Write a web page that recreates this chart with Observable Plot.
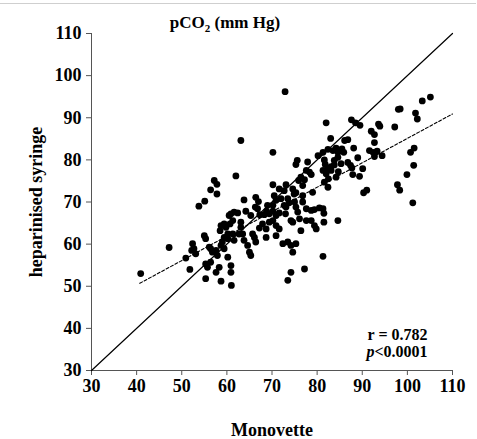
<!DOCTYPE html>
<html>
<head>
<meta charset="utf-8">
<script src="https://cdn.jsdelivr.net/npm/d3@7"></script>
<script src="https://cdn.jsdelivr.net/npm/@observablehq/plot@0.6"></script>
<style>
  html, body { margin: 0; padding: 0; background: #fff; }
  #wrap { position: relative; width: 477px; height: 439px; overflow: hidden; }
  #topline { position: absolute; left: 0; top: 3px; width: 476px; height: 1px; background: #cfcfcf; }
  svg text { font-family: 'Liberation Serif', 'Times New Roman', serif; font-weight: bold; }
</style>
</head>
<body>
<div id="wrap"><div id="topline"></div></div>
<script>
// ---- data ----
const titleText = "pCO2 (mm Hg)";
const xLabel = "Monovette";
const yLabel = "heparinised syringe";
const statR = "r = 0.782";
const statP = "p<0.0001";
const xTicks = [30, 40, 50, 60, 70, 80, 90, 100, 110];
const yTicks = [30, 40, 50, 60, 70, 80, 90, 100, 110];
const identityX = [30, 110];
const fitX = [40.7, 110];
const fitY = [50.7, 90.9];

const monovette = [
  40.9,47.2,50.9,51.8,52.4,52.2,53.1,52.7,53.8,55.1,55.0,55.3,56.1,56.4,56.8,57.6,57.9,58.7,59.0,59.4,
  60.2,58.7,59.8,58.5,59.4,60.2,60.5,60.7,55.3,55.7,56.4,55.3,58.7,61.0,57.6,58.3,57.2,57.8,56.4,57.8,
  62.0,63.1,60.2,60.9,60.9,61.3,61.6,60.9,61.6,62.4,63.1,63.5,63.8,64.6,65.0,65.3,65.7,66.1,66.4,65.3,
  63.8,66.4,67.0,66.3,66.8,67.3,67.2,67.9,68.7,68.7,68.3,68.8,69.4,70.2,70.9,71.6,70.2,69.4,70.9,70.9,
  71.6,72.4,73.5,74.2,75.3,74.6,74.2,74.6,76.4,76.1,77.6,78.7,79.4,79.8,77.2,74.2,73.5,73.1,73.0,75.0,
  75.3,75.7,76.8,77.6,78.7,79.4,80.5,81.3,81.5,81.5,84.6,81.3,70.5,70.9,72.0,73.5,73.8,70.2,71.6,73.1,
  74.6,75.3,76.8,77.2,75.9,79.0,70.2,72.9,72.7,75.6,75.3,76.4,77.6,77.9,78.3,78.7,74.9,69.0,70.2,72.7,
  76.8,64.2,63.1,61.3,82.0,87.6,88.5,89.5,93.6,93.9,92.0,92.7,97.2,92.7,83.0,86.1,86.8,88.1,82.4,83.5,
  84.2,85.5,85.9,98.0,98.4,101.8,102.2,103.3,105.1,100.7,101.5,101.4,99.9,97.8,98.3,101.2,90.3,91.0,91.6,92.4,
  93.3,92.7,94.4,89.0,90.1,89.4,87.7,87.9,86.8,87.4,84.6,84.7,81.6,81.8,82.4,83.1,83.8,82.0,82.5,82.4,
  81.6,84.2,80.2,85.3,81.3,83.1,81.3,84.6,83.8,59.4,62.7
];
const syringe = [
  53.0,59.2,56.7,54.0,60.1,58.5,57.7,58.9,69.0,70.2,62.0,61.3,59.3,58.9,58.1,58.5,57.3,59.7,60.5,58.9,
  61.3,64.4,64.0,63.2,61.6,62.4,66.8,64.8,55.3,54.5,55.7,51.8,51.2,50.2,53.3,54.5,75.1,74.2,72.9,71.9,
  76.2,84.6,56.9,54.9,53.3,62.4,60.9,67.2,67.6,67.4,64.0,62.4,60.9,59.7,58.1,57.3,62.4,61.6,60.5,66.8,
  70.5,71.1,70.1,68.8,68.4,67.0,63.8,64.8,61.6,63.6,67.0,67.8,67.2,67.8,66.8,67.4,65.6,65.2,64.4,62.0,
  63.6,60.1,60.5,59.7,60.1,58.1,65.6,65.2,63.2,66.0,65.6,65.6,64.4,63.6,54.1,53.3,51.4,68.8,67.2,70.0,
  68.8,67.6,70.0,68.4,68.0,68.2,68.6,68.4,67.3,65.2,65.6,57.1,71.5,70.4,70.8,70.8,69.8,74.1,73.1,74.1,
  73.1,72.2,73.9,75.3,75.1,72.3,81.8,96.2,72.7,79.9,78.9,75.9,77.5,79.5,77.1,76.5,71.9,69.2,69.2,69.2,
  71.5,67.8,65.2,65.6,88.8,89.5,88.8,88.2,88.5,88.0,86.8,86.0,87.8,84.1,85.1,84.6,84.8,82.8,82.5,82.2,
  82.8,82.6,81.8,92.0,92.1,91.1,89.7,94.0,94.9,81.8,82.8,78.7,76.5,74.1,72.8,69.8,72.2,72.8,82.2,81.8,
  82.1,80.8,81.0,80.5,77.9,76.1,78.1,76.5,79.4,78.7,80.6,77.2,80.0,78.9,77.9,78.4,78.8,76.7,75.5,73.5,
  74.7,75.9,81.0,79.1,77.5,77.5,81.8,81.8,79.9,64.8,62.4
];

// tables built from the arrays
const points = monovette.map((x, i) => ({x, y: syringe[i]}));
const identity = identityX.map(v => ({x: v, y: v}));
const fit = fitX.map((x, i) => ({x, y: fitY[i]}));

const serif = "'Liberation Serif', 'Times New Roman', serif";

const chart = Plot.plot({
  width: 477,
  height: 439,
  marginLeft: 91,
  marginRight: 25,
  marginTop: 33,
  marginBottom: 69,
  style: {fontFamily: serif, fontSize: "16px", fontWeight: "bold", color: "#000", background: "#fff", overflow: "visible"},
  x: {domain: [30, 110]},
  y: {domain: [30, 110]},
  marks: [
    Plot.axisX({ticks: xTicks, tickSize: 5, tickPadding: 4, label: null, stroke: "#555", fill: "#000", fontWeight: "bold", fontFamily: serif}),
    Plot.axisY({ticks: yTicks, tickSize: 5, tickPadding: 5, label: null, stroke: "#555", fill: "#000", fontWeight: "bold", fontFamily: serif}),
    Plot.ruleX([30], {stroke: "#555"}),
    Plot.ruleY([30], {stroke: "#555"}),
    Plot.line(identity, {x: "x", y: "y", stroke: "#000", strokeWidth: 1.2}),
    Plot.line(fit, {x: "x", y: "y", stroke: "#000", strokeWidth: 1.1, strokeDasharray: "3,2"}),
    Plot.dot(points, {x: "x", y: "y", r: 3.4, fill: "#000", stroke: null}),
    Plot.text([statR], {text: d => d, frameAnchor: "bottom-right", dx: -25, dy: -31, lineAnchor: "bottom", textAnchor: "end", fontSize: 16, fontWeight: "bold"}),
    Plot.text([statP], {text: d => d, frameAnchor: "bottom-right", dx: -25, dy: -14, lineAnchor: "bottom", textAnchor: "end", fontSize: 16, fontWeight: "bold"}),
    Plot.text([titleText], {text: d => d, frameAnchor: "top", dx: -47, dy: -6, lineAnchor: "bottom", fontSize: 17, fontWeight: "bold"}),
    Plot.text([xLabel], {text: d => d, frameAnchor: "bottom", dy: 60, lineAnchor: "middle", fontSize: 18, fontWeight: "bold"}),
    Plot.text([yLabel], {text: d => d, frameAnchor: "left", dx: -55, rotate: -90, textAnchor: "middle", lineAnchor: "middle", fontSize: 18, fontWeight: "bold"})
  ]
});

document.getElementById("wrap").appendChild(chart);

// tick label size: inline style on every text whose content is a tick value
const tickStrings = new Set(xTicks.concat(yTicks).map(String));
d3.select(chart).selectAll("text").each(function() {
  if (tickStrings.has(this.textContent.trim())) {
    this.style.fontSize = "18px";
  }
});

// rich text: subscript in title, italic p
d3.select(chart).selectAll("text").each(function() {
  const el = d3.select(this);
  const t = this.textContent;
  if (t === titleText) {
    el.text("");
    el.append("tspan").text("pCO");
    el.append("tspan").attr("font-size", 11).attr("dy", 4).text("2");
    el.append("tspan").attr("dy", -4).text(" (mm Hg)");
  } else if (t === statP) {
    el.text("");
    el.append("tspan").attr("font-style", "italic").text("p");
    el.append("tspan").text("<0.0001");
  }
});
</script>
</body>
</html>
